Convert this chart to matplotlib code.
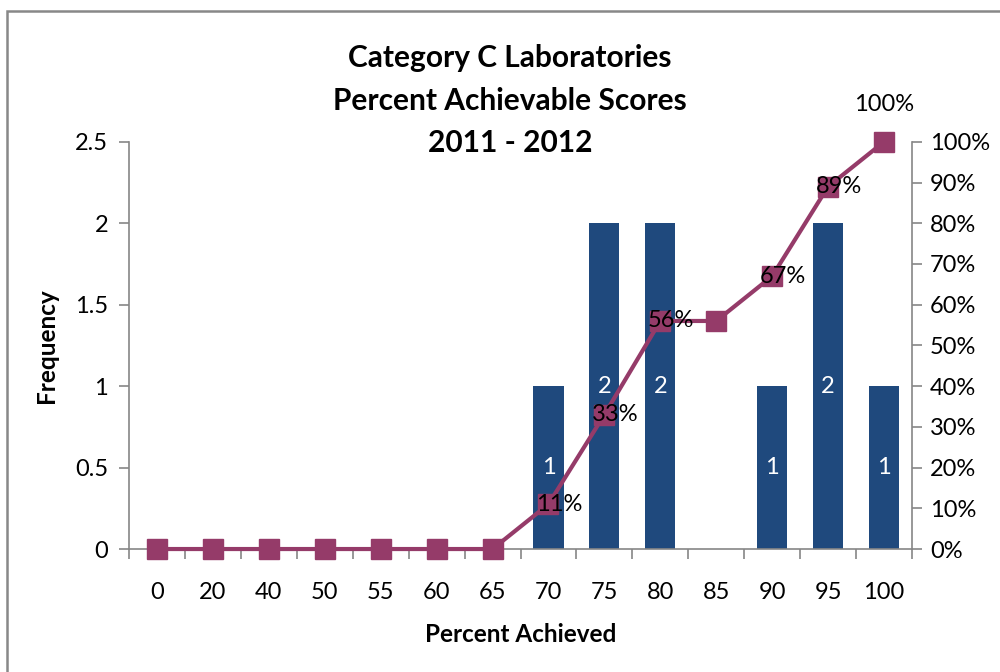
import numpy as np
import matplotlib.pyplot as plt
from matplotlib.patches import Rectangle

plt.rcParams['font.family'] = ['Lato', 'DejaVu Sans']

#=============================
# Data
#=============================
categories = ['0', '20', '40', '50', '55', '60', '65', '70', '75', '80', '85', '90', '95', '100']
frequency = [0, 0, 0, 0, 0, 0, 0, 1, 2, 2, 0, 1, 2, 1]
cumulative = [0, 0, 0, 0, 0, 0, 0, 11, 33, 56, 56, 67, 89, 100]
pct_labels = ['', '', '', '', '', '', '', '11%', '33%', '56%', '', '67%', '89%', '100%']

bar_col = '#1F497D'
line_col = '#953B69'
grey = '#868686'
fs = 17

x = np.arange(len(categories))

fig = plt.figure(figsize=(10, 6.72), dpi=100)
ax1 = fig.add_axes([0.129, 0.183, 0.783, 0.606])
ax2 = ax1.twinx()

# bars
bars = ax1.bar(x, frequency, width=0.54, color=bar_col, zorder=2)
for xi, f in zip(x, frequency):
    if f > 0:
        ax1.text(xi, f / 2.0, '%d' % f, color='white', ha='center', va='center', fontsize=fs)

ax1.set_xlim(-0.5, len(categories) - 0.5)
ax1.set_ylim(0, 2.5)
ax1.set_yticks([0, 0.5, 1, 1.5, 2, 2.5])
ax1.set_yticklabels(['0', '0.5', '1', '1.5', '2', '2.5'])
ax1.set_xticks(x)
ax1.set_xticklabels(categories)
ax1.set_xticks(np.arange(-0.5, len(categories)), minor=True)
ax1.tick_params(axis='x', which='major', length=0, pad=24, labelsize=fs)
ax1.tick_params(axis='x', which='minor', length=7, color=grey, width=1.2)
ax1.tick_params(axis='y', length=7, color=grey, width=1.2, labelsize=fs, pad=8)

# cumulative line
ax2.plot(x, cumulative, '-', color=line_col, lw=3, marker='s', ms=14, zorder=3, clip_on=False)
ax2.set_ylim(0, 100)
ax2.set_yticks(np.arange(0, 101, 10))
ax2.set_yticklabels(['%d%%' % v for v in range(0, 101, 10)])
ax2.tick_params(axis='y', length=7, color=grey, width=1.2, labelsize=fs, pad=6)
for xi, c, lab in zip(x, cumulative, pct_labels):
    if not lab:
        continue
    if c == 100:
        ax2.annotate(lab, (xi, c), xytext=(0, 37), textcoords='offset pixels',
                     ha='center', va='center', fontsize=fs)
    else:
        ax2.annotate(lab, (xi, c), xytext=(11, 0), textcoords='offset pixels',
                     ha='center', va='center', fontsize=fs)

for a in (ax1, ax2):
    a.spines['top'].set_visible(False)
    for s in ('left', 'right', 'bottom'):
        a.spines[s].set_color(grey)
        a.spines[s].set_linewidth(1.2)
ax1.spines['right'].set_visible(False)
ax2.spines['left'].set_visible(False)
ax2.spines['bottom'].set_visible(False)

ax1.set_ylabel('Frequency', fontsize=17.5, fontweight='bold', labelpad=12)
ax1.set_xlabel('Percent Achieved', fontsize=17.5, fontweight='bold', labelpad=14)

fig.text(0.51, 1 - 58 / 672., 'Category C Laboratories', ha='center', va='center', fontsize=21.5, fontweight='bold')
fig.text(0.51, 1 - 101 / 672., 'Percent Achievable Scores', ha='center', va='center', fontsize=21.5, fontweight='bold')
fig.text(0.51, 1 - 143 / 672., '2011 - 2012', ha='center', va='center', fontsize=21.5, fontweight='bold')

# chart frame
fig.patches.append(Rectangle((0.007, -0.2), 1.2, 1.2 - 11 / 672., transform=fig.transFigure,
                             fill=False, edgecolor='#888888', lw=1.8))

plt.savefig('out.png', dpi=100)
